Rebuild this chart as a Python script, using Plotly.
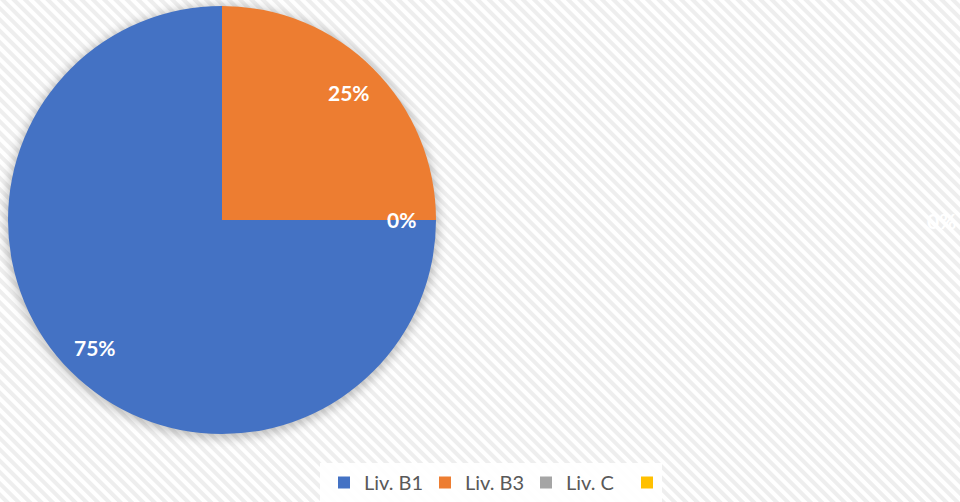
import base64
import math
import plotly.graph_objects as go

# ---- data ----
labels = ["Liv. B1", "Liv. B3", "Liv. C", " "]
values = [3, 1, 0, 0]
colors = ["#4472C4", "#ED7D31", "#A5A5A5", "#FFC000"]

# ---- layout constants (pixels) ----
W, H = 960, 502
cx, cy, r = 222, 220, 214
rotation = 90
label_frac = 0.84

fig = go.Figure(
    go.Pie(
        labels=labels,
        values=values,
        marker=dict(colors=colors, line=dict(width=0)),
        sort=False,
        direction="clockwise",
        rotation=rotation,
        textinfo="none",
        hoverinfo="label+percent",
        domain=dict(x=[(cx - r) / W, (cx + r) / W],
                    y=[1 - (cy + r) / H, 1 - (cy - r) / H]),
    )
)

# data labels computed from the values
total = sum(values)
start = rotation
annotations = []
for i, v in enumerate(values):
    span = 360.0 * v / total
    mid = math.radians(start + span / 2)
    start += span
    pct = f"{round(100 * v / total)}%"
    if i == len(values) - 1:
        px, py = 941, cy
    else:
        px = cx + label_frac * r * math.sin(mid)
        py = cy - label_frac * r * math.cos(mid)
    annotations.append(dict(
        x=px / W, y=1 - py / H, xref="paper", yref="paper",
        text=f"<b>{pct}</b>", showarrow=False,
        font=dict(family="Lato, Open Sans, sans-serif", size=21, color="#ffffff"),
        xanchor="center", yanchor="middle",
    ))

svg = f'''<svg xmlns="http://www.w3.org/2000/svg" width="{W}" height="{H}" viewBox="0 0 {W} {H}">
<defs>
<pattern id="p" patternUnits="userSpaceOnUse" width="8" height="8" patternTransform="rotate(-45)">
<rect width="8" height="8" fill="#ffffff"/><rect width="4" height="8" fill="#eeeeee"/>
</pattern>
<filter id="b" x="-20%" y="-20%" width="140%" height="140%"><feGaussianBlur stdDeviation="5"/></filter>
</defs>
<rect width="{W}" height="{H}" fill="url(#p)"/>
<circle cx="{cx}" cy="{cy + 2}" r="{r + 3}" fill="rgba(0,0,0,0.22)" filter="url(#b)"/>
<rect x="320" y="463" width="342" height="39" fill="#ffffff" fill-opacity="0.92"/>
</svg>'''
src = "data:image/svg+xml;base64," + base64.b64encode(svg.encode()).decode()

fig.update_layout(
    width=W, height=H,
    margin=dict(l=0, r=0, t=0, b=0),
    paper_bgcolor="#ffffff",
    images=[dict(source=src, xref="paper", yref="paper", x=0, y=1,
                 sizex=1, sizey=1, sizing="stretch", layer="below",
                 xanchor="left", yanchor="top")],
    annotations=annotations,
    showlegend=True,
    legend=dict(orientation="h", x=324 / W, xanchor="left",
                y=0, yanchor="bottom",
                bgcolor="rgba(0,0,0,0)",
                font=dict(family="Lato, Open Sans, sans-serif", size=20, color="#595959"),
                itemwidth=30, entrywidth=56, entrywidthmode="pixels"),
)

fig.write_html(
    "out.html",
    config={"displayModeBar": False},
    post_script="document.body.style.margin='0';document.body.style.overflow='hidden';",
)
